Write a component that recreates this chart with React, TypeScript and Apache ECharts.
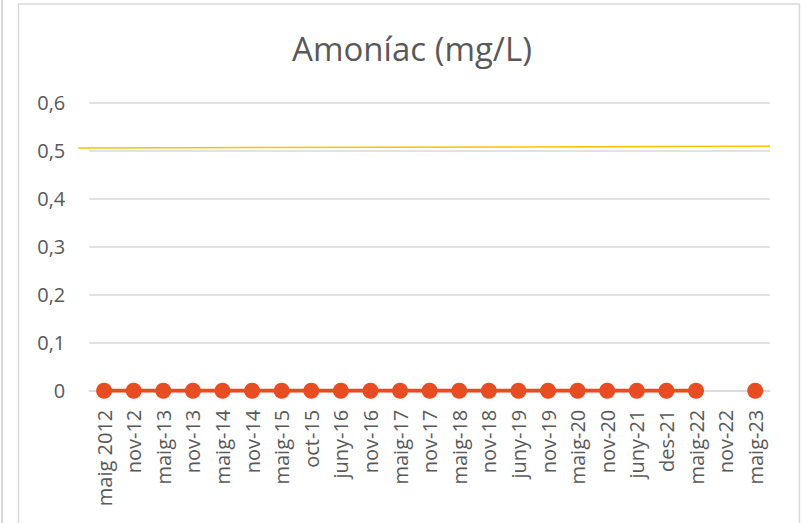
import React, { useEffect, useRef } from "react";
import * as echarts from "echarts";

const categories = [
  "maig 2012", "nov-12", "maig-13", "nov-13", "maig-14", "nov-14", "maig-15", "oct-15",
  "juny-16", "nov-16", "maig-17", "nov-17", "maig-18", "nov-18", "juny-19", "nov-19",
  "maig-20", "nov-20", "juny-21", "des-21", "maig-22", "nov-22", "maig-23",
];
const ammoniaValues: (number | null)[] = [
  0, 0, 0, 0, 0, 0, 0, 0, 0, 0, 0, 0, 0, 0, 0, 0, 0, 0, 0, 0, 0, null, 0,
];
const limitLine: [number, number][] = [
  [0, 0.5056],
  [1, 0.5092],
];
const yTicks = { min: 0, max: 0.6, interval: 0.1 };

export default function App() {
  const ref = useRef<HTMLDivElement>(null);
  useEffect(() => {
    if (!ref.current) return;
    const chart = echarts.init(ref.current, undefined, { renderer: "svg" });
    const font = "'Open Sans', 'Noto Sans', sans-serif";
    chart.setOption({
      animation: false,
      backgroundColor: "#ffffff",
      title: {
        text: "Amoníac (mg/L)",
        left: 407,
        textAlign: "center",
        top: 27,
        textStyle: { fontFamily: font, fontSize: 33, fontWeight: "normal", color: "#595959" },
      },
      graphic: [
        { type: "rect", shape: { x: 1, y: -2, width: 2, height: 530 }, style: { fill: "#d9d9d9" }, z: 100 },
        { type: "rect", shape: { x: 18.5, y: 4, width: 781, height: 530 }, style: { fill: "none", stroke: "#d9d9d9", lineWidth: 1.5 }, z: 100 },
      ],
      grid: [
        { left: 89.3, right: 38, top: 102.7, bottom: 132.3, containLabel: false },
        { left: 78.3, right: 38, top: 102.7, bottom: 132.3, containLabel: false },
      ],
      xAxis: [
        {
          type: "category",
          gridIndex: 0,
          data: categories,
          boundaryGap: true,
          axisLine: { show: true, lineStyle: { color: "#d9d9d9", width: 1.5 } },
          axisTick: { show: false },
          axisLabel: {
            rotate: 90,
            interval: 0,
            margin: 19,
            fontFamily: font,
            fontSize: 20,
            color: "#595959",
          },
        },
        { type: "value", gridIndex: 1, min: 0, max: 1, show: false },
      ],
      yAxis: [
        {
          type: "value",
          gridIndex: 0,
          min: yTicks.min,
          max: yTicks.max,
          interval: yTicks.interval,
          axisLine: { show: false },
          axisTick: { show: false },
          splitLine: { lineStyle: { color: "#d9d9d9", width: 1.5 } },
          axisLabel: {
            margin: 24,
            fontFamily: font,
            fontSize: 20,
            color: "#595959",
            formatter: (v: number) => (Math.round(v * 10) / 10).toString().replace(".", ","),
          },
        },
        {
          type: "value",
          gridIndex: 1,
          min: yTicks.min,
          max: yTicks.max,
          interval: yTicks.interval,
          show: false,
          splitLine: { show: false },
        },
      ],
      series: [
        {
          type: "line",
          xAxisIndex: 0,
          yAxisIndex: 0,
          data: ammoniaValues,
          connectNulls: false,
          symbol: "circle",
          symbolSize: 16,
          showAllSymbol: true,
          lineStyle: { color: "#e84c22", width: 4 },
          itemStyle: { color: "#e84c22" },
          z: 5,
        },
        {
          type: "line",
          xAxisIndex: 1,
          yAxisIndex: 1,
          data: limitLine,
          symbol: "none",
          lineStyle: { color: "#ffc000", width: 1.5 },
          z: 4,
        },
      ],
    });
    return () => chart.dispose();
  }, []);
  return <div ref={ref} style={{ position: "fixed", left: 0, top: 0, width: 808, height: 523 }} />;
}
